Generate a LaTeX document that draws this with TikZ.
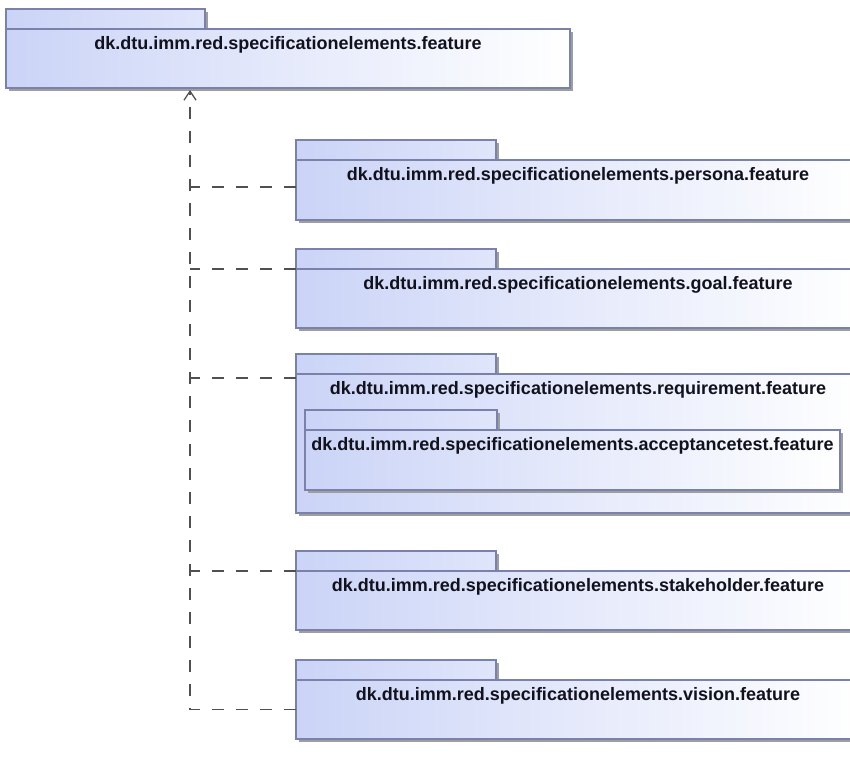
\documentclass[tikz,border=0pt]{standalone}
\usepackage{fontspec}
\usetikzlibrary{arrows.meta,positioning,shadows}
\newfontfamily\pkgsans{Liberation Sans}
\definecolor{pkgfill}{RGB}{203,212,247}
\definecolor{pkgline}{RGB}{122,130,172}
\definecolor{deplin}{RGB}{80,80,80}
\definecolor{pkgtext}{RGB}{18,18,30}

\begin{document}
\begin{tikzpicture}[
  x=1pt, y=-1pt,
  >={Straight Barb[length=9pt,width=12pt,line width=1.3pt]},
  pkg/.style={draw=pkgline, line width=1.3pt, outer sep=0pt, inner sep=0pt, anchor=north west,
    drop shadow={shadow xshift=3pt, shadow yshift=-3pt, fill=black!38, draw=none, opacity=1}},
  pkgtab/.style={pkg, minimum width=200pt, minimum height=20pt, left color=pkgfill, right color=pkgfill!60!white},
  pkgbody/.style={pkg, minimum width=564pt, minimum height=60pt, left color=pkgfill, right color=white},
  pkgtitle/.style={font=\pkgsans\bfseries\fontsize{18}{21}\selectfont, text=pkgtext, inner sep=0pt},
  dep/.style={draw=deplin, line width=1.2pt, dash pattern=on 12pt off 12pt}
]
\useasboundingbox (0,0) rectangle (850,759);
\clip (0,0) rectangle (850,759);

% parent package
\node[pkgtab, minimum width=199pt] (featuretab) at (6,9) {};
\node[pkgbody, minimum height=59pt] (feature) at (featuretab.south west) {};
\node[pkgtitle, below=7pt of feature.north] (featuretitle) {dk.dtu.imm.red.specificationelements.feature};

% sub packages
\node[pkgtab] (personatab) at (296,140) {};
\node[pkgbody] (persona) at (personatab.south west) {};
\node[pkgtitle, below=7pt of persona.north] (personatitle) {dk.dtu.imm.red.specificationelements.persona.feature};

\node[pkgtab] (goaltab) at (296,249) {};
\node[pkgbody, minimum height=59pt] (goal) at (goaltab.south west) {};
\node[pkgtitle, below=7pt of goal.north] (goaltitle) {dk.dtu.imm.red.specificationelements.goal.feature};

\node[pkgtab] (requirementtab) at (296,354) {};
\node[pkgbody, minimum height=139pt] (requirement) at (requirementtab.south west) {};
\node[pkgtitle, below=7pt of requirement.north] (requirementtitle) {dk.dtu.imm.red.specificationelements.requirement.feature};

\node[pkgtab, minimum width=192pt] (acceptancetab) at (305,410) {};
\node[pkgbody, minimum width=535pt] (acceptance) at (acceptancetab.south west) {};
\node[pkgtitle, below=7pt of acceptance.north] (acceptancetitle) {dk.dtu.imm.red.specificationelements.acceptancetest.feature};

\node[pkgtab] (stakeholdertab) at (296,551) {};
\node[pkgbody, minimum height=59pt] (stakeholder) at (stakeholdertab.south west) {};
\node[pkgtitle, below=7pt of stakeholder.north] (stakeholdertitle) {dk.dtu.imm.red.specificationelements.stakeholder.feature};

\node[pkgtab] (visiontab) at (296,660) {};
\node[pkgbody, minimum height=59pt] (vision) at (visiontab.south west) {};
\node[pkgtitle, below=7pt of vision.north] (visiontitle) {dk.dtu.imm.red.specificationelements.vision.feature};

% dependencies
\coordinate (tip) at (190,90);
\draw[dep, ->] (vision.west) -| (tip);
\draw[dep] ([yshift=3pt]persona.west) -- ([yshift=3pt]persona.west -| tip);
\draw[dep] (goal.north west) -- (goal.north west -| tip);
\draw[dep] ([yshift=-4pt]requirement.north west) -- ([yshift=-4pt]requirement.north west -| tip);
\draw[dep] (stakeholder.north west) -- (stakeholder.north west -| tip);
\end{tikzpicture}
\end{document}
